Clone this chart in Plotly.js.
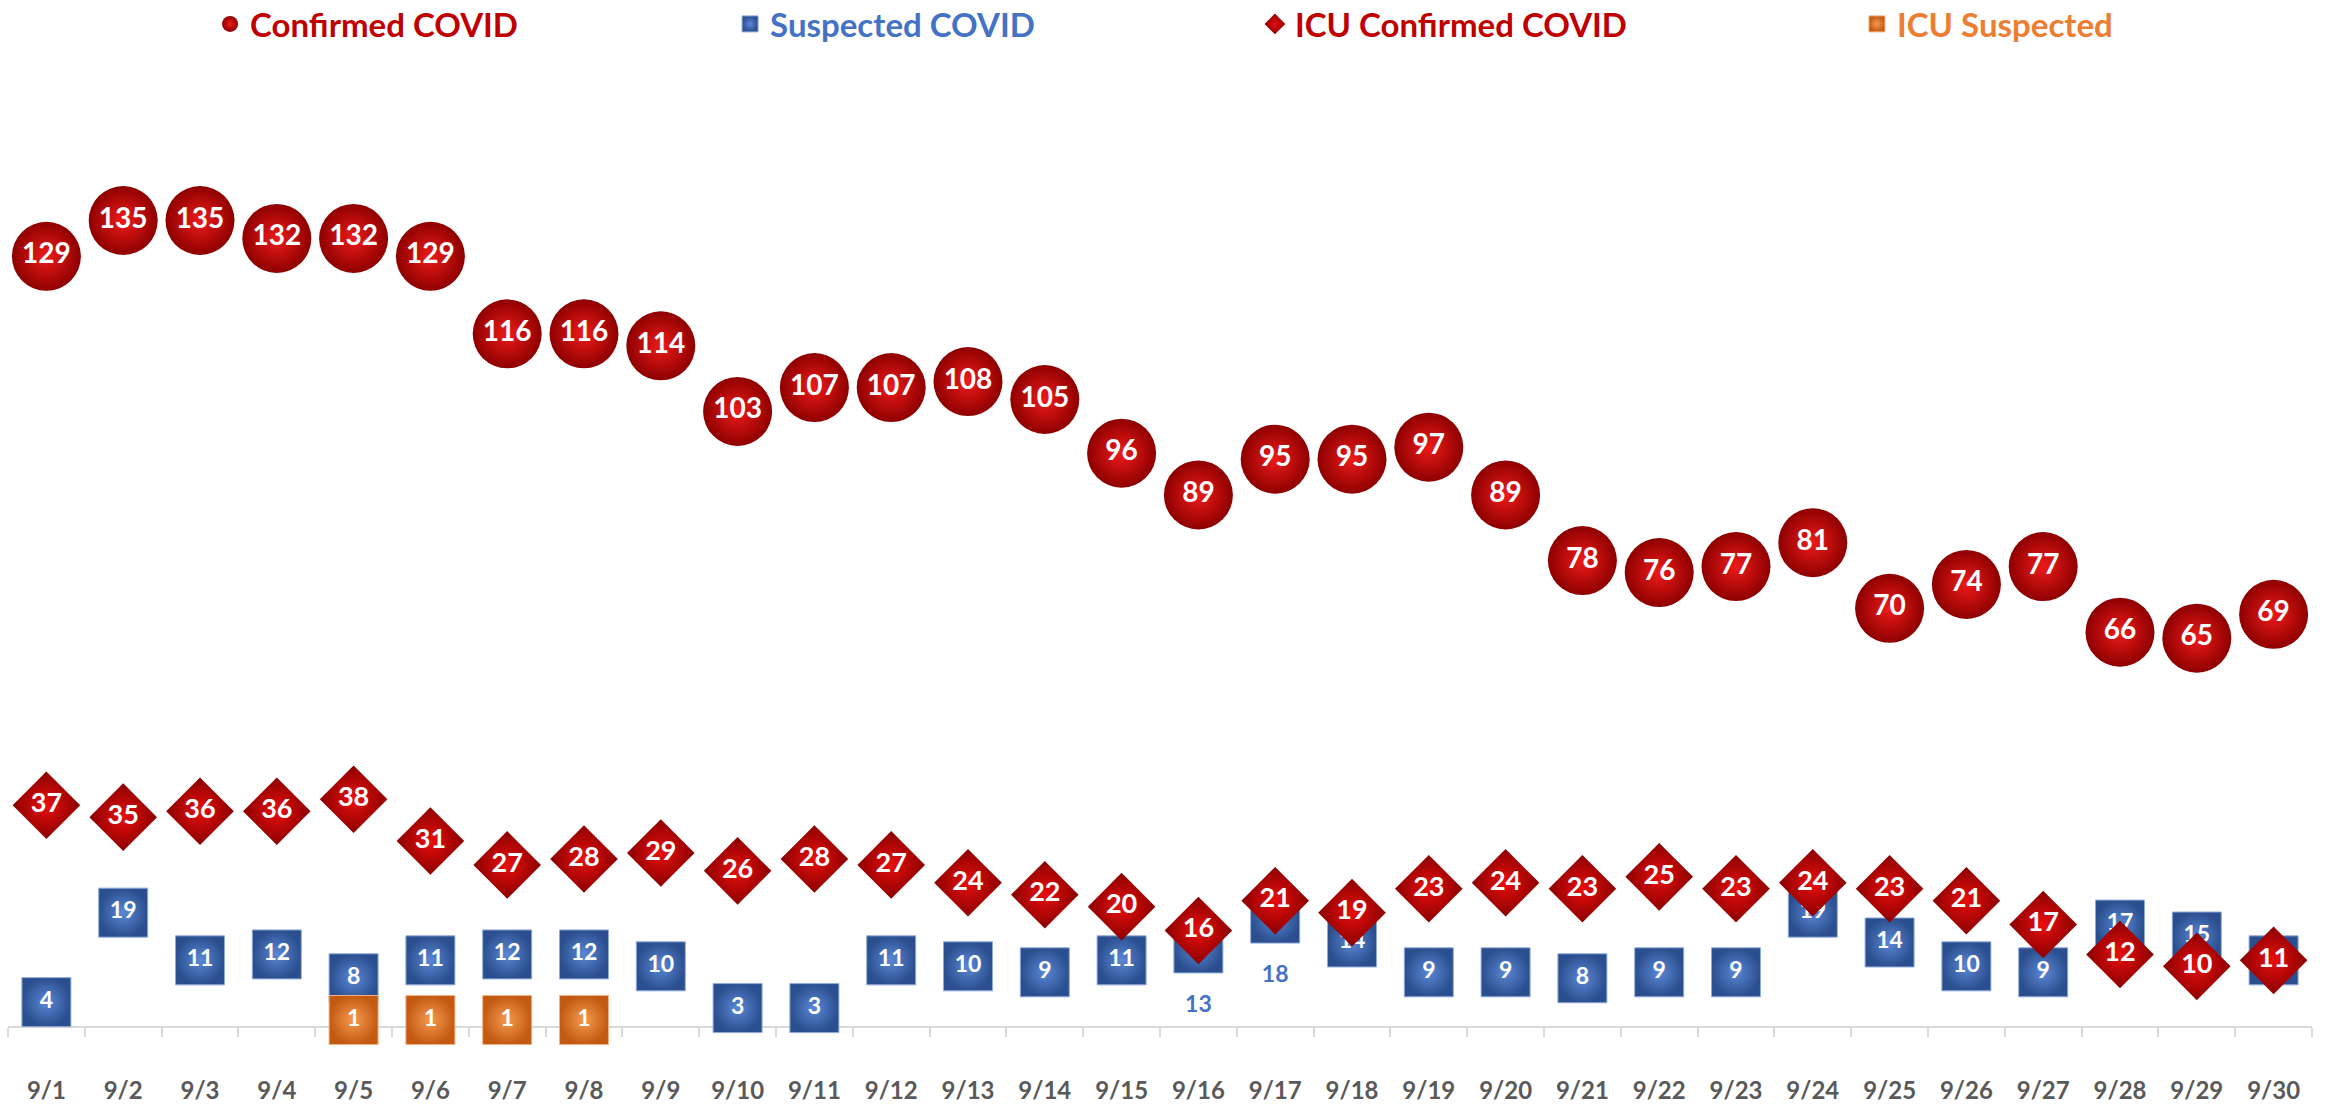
<!DOCTYPE html>
<html>
<head>
<meta charset="utf-8">
<script src="https://cdn.plot.ly/plotly-3.0.1.min.js"></script>
<style>html,body{margin:0;padding:0;background:#fff;}#chart{width:2330px;height:1106px;}</style>
</head>
<body>
<div id="chart"></div>
<script>
const dates = ["9/1","9/2","9/3","9/4","9/5","9/6","9/7","9/8","9/9","9/10","9/11","9/12","9/13","9/14","9/15","9/16","9/17","9/18","9/19","9/20","9/21","9/22","9/23","9/24","9/25","9/26","9/27","9/28","9/29","9/30"];
const confirmed = [129,135,135,132,132,129,116,116,114,103,107,107,108,105,96,89,95,95,97,89,78,76,77,81,70,74,77,66,65,69];
const suspected = [4,19,11,12,8,11,12,12,10,3,3,11,10,9,11,13,18,14,9,9,8,9,9,19,14,10,9,17,15,11];
const icuConfirmed = [37,35,36,36,38,31,27,28,29,26,28,27,24,22,20,16,21,19,23,24,23,25,23,24,23,21,17,12,10,11];
const icuSuspected = [null,null,null,null,1,1,1,1,null,null,null,null,null,null,null,null,null,null,null,null,null,null,null,null,null,null,null,null,null,null];
const seriesNames = ["Confirmed COVID","Suspected COVID","ICU Confirmed COVID","ICU Suspected"];
const belowLabelDates = ["9/16","9/17"];

const FONT = "Lato, 'Open Sans', sans-serif";
const RED = "#C00000", BLUE = "#4472C4", ORANGE = "#ED7D31";

const isBelow = d => belowLabelDates.indexOf(d) >= 0;

const traces = [
  {
    x: dates, y: confirmed, name: seriesNames[0], type: "scatter", mode: "markers+text",
    text: confirmed.map(String), textposition: "middle center",
    textfont: {family: FONT, size: 28, color: "#FFFFFF", weight: 700},
    marker: {symbol: "circle", size: 69, color: "#8E0000", line: {width: 0},
             gradient: {type: "radial", color: "#EE1A1A"}},
    cliponaxis: false, legend: "legend"
  },
  {
    x: dates, y: suspected, name: seriesNames[1], type: "scatter", mode: "markers+text",
    text: suspected.map((v, i) => isBelow(dates[i]) ? "" : String(v)), textposition: "middle center",
    textfont: {family: FONT, size: 23, color: "#FFFFFF", weight: 700},
    marker: {symbol: "square", size: 49, color: "#2B4F8E", line: {width: 1, color: "#8FAADC"},
             gradient: {type: "radial", color: "#5A87D6"}},
    cliponaxis: false, legend: "legend2"
  },
  {
    // labels of the suspected series that sit below their marker (invisible spacer marker)
    x: dates, y: suspected, type: "scatter", mode: "markers+text", showlegend: false,
    text: suspected.map((v, i) => isBelow(dates[i]) ? String(v) : ""), textposition: "bottom center",
    textfont: {family: FONT, size: 23, color: BLUE, weight: 700},
    marker: {size: 73, color: "rgba(0,0,0,0)", opacity: 0, line: {width: 0}},
    cliponaxis: false
  },
  {
    x: dates, y: icuConfirmed, name: seriesNames[2], type: "scatter", mode: "markers+text",
    text: icuConfirmed.map(String), textposition: "middle center",
    textfont: {family: FONT, size: 27, color: "#FFFFFF", weight: 700},
    marker: {symbol: "diamond", size: 52, color: "#8A0000", line: {width: 0},
             gradient: {type: "radial", color: "#E80E0E"}},
    cliponaxis: false, legend: "legend3"
  },
  {
    x: dates, y: icuSuspected, name: seriesNames[3], type: "scatter", mode: "markers+text",
    text: icuSuspected.map(v => v === null ? "" : String(v)), textposition: "middle center",
    textfont: {family: FONT, size: 23, color: "#FFFFFF", weight: 700},
    marker: {symbol: "square", size: 49, color: "#C25A12", line: {width: 1, color: "#F4B183"},
             gradient: {type: "radial", color: "#F79A50"}},
    cliponaxis: false, legend: "legend4"
  }
];

function leg(x, color) {
  return {orientation: "h", x: x, xanchor: "left", y: 1.1196, yanchor: "middle",
          font: {family: FONT, size: 33, color: color, weight: 700},
          bgcolor: "rgba(0,0,0,0)", borderwidth: 0, itemsizing: "trace"};
}

const layout = {
  width: 2330, height: 1106,
  margin: {l: 8, r: 18, t: 131, b: 80, autoexpand: false},
  paper_bgcolor: "#FFFFFF", plot_bgcolor: "#FFFFFF",
  showlegend: true,
  legend: leg(0.0877, RED),
  legend2: leg(0.3134, BLUE),
  legend3: leg(0.5412, RED),
  legend4: leg(0.8025, ORANGE),
  xaxis: {
    type: "category", range: [-0.5, 29.5],
    showline: true, linecolor: "#D9D9D9", linewidth: 2,
    ticks: "outside", tickson: "boundaries", ticklen: 9, tickcolor: "#D9D9D9", tickwidth: 2,
    showgrid: false, zeroline: false, layer: "below traces", automargin: false,
    tickfont: {family: FONT, size: 24, color: "#595959", weight: 700},
    ticklabelstandoff: 42
  },
  yaxis: {range: [0, 150], visible: false, showgrid: false, zeroline: false},
  hovermode: false
};

Plotly.newPlot("chart", traces, layout, {displayModeBar: false, staticPlot: true});
</script>
</body>
</html>
